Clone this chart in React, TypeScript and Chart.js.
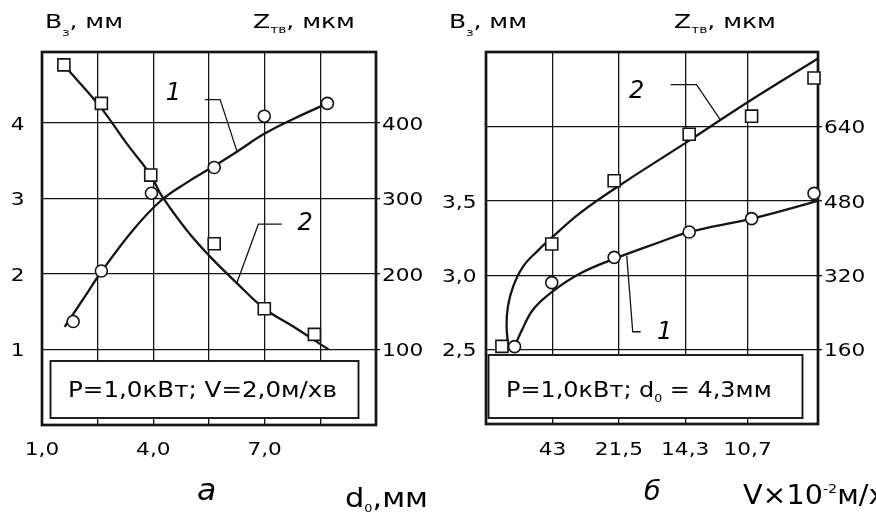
import React, { useEffect, useRef } from 'react';
import { Chart, registerables } from 'chart.js';

Chart.register(...registerables);

// ================= Figure (а): x = d0, mm =================
const A_X_GRID = [1, 2.5, 4, 5.5, 7, 8.5, 10];
const A_X_TICKS = [1, 4, 7];
const A_X_LABELS = ['1,0', '4,0', '7,0'];
const A_B_TICKS = [1, 2, 3, 4];
const A_B_LABELS = ['1', '2', '3', '4'];
const A_Z_TICKS = [100, 200, 300, 400];
const A_Z_LABELS = ['100', '200', '300', '400'];

// curve 1 (circles), B_з, mm
const A_PTS1_X = [1.84, 2.6, 3.95, 5.64, 6.99, 8.69];
const A_PTS1_B = [1.37, 2.04, 3.07, 3.41, 4.09, 4.26];
const A_LINE1_X = [1.61, 2.1, 2.6, 3.45, 4.2, 4.9, 5.64, 6.25, 7.0, 7.8, 8.69];
const A_LINE1_B = [1.3, 1.66, 2.03, 2.58, 2.97, 3.21, 3.43, 3.62, 3.86, 4.06, 4.26];

// curve 2 (squares), Z_тв, мкм
const A_PTS2_X = [1.59, 2.6, 3.93, 5.64, 6.99, 8.34];
const A_PTS2_Z = [477, 426, 331, 240, 154, 120];
const A_LINE2_X = [1.6, 2.56, 3.28, 3.93, 4.22, 4.9, 5.53, 6.25, 6.97, 7.78, 8.72];
const A_LINE2_Z = [476, 422, 373, 331, 304, 258, 223, 188, 155, 130, 100];

// leaders and curve numbers (B units)
const A_LEAD1_X = [5.39, 5.8, 6.25];
const A_LEAD1_B = [4.31, 4.31, 3.63];
const A_LEAD2_X = [7.46, 6.83, 6.25];
const A_LEAD2_B = [2.66, 2.66, 1.88];
const A_NUM_X = [4.54, 8.09];
const A_NUM_B = [4.41, 2.69];
const A_NUM_TEXT = ['1', '2'];

// ================= Figure (б): x = V×10^-2 m/min =================
const B_X_GRID = [1, 2, 3, 3.94];
const B_X_LABELS = ['43', '21,5', '14,3', '10,7'];
const B_B_GRID = [2.5, 3.0, 3.5, 4.0];
const B_B_TICKS = [2.5, 3.0, 3.5];
const B_B_LABELS = ['2,5', '3,0', '3,5'];
const B_Z_TICKS = [160, 320, 480, 640];
const B_Z_LABELS = ['160', '320', '480', '640'];

// curve 1 (circles), B_з, mm
const B_PTS1_X = [0.43, 0.99, 1.93, 3.06, 4.0, 4.94];
const B_PTS1_B = [2.52, 2.95, 3.12, 3.29, 3.38, 3.55];
const B_LINE1_X = [0.43, 0.54, 0.71, 1.0, 1.41, 1.93, 2.6, 3.06, 4.0, 5.0];
const B_LINE1_B = [2.52, 2.63, 2.77, 2.89, 3.01, 3.11, 3.22, 3.29, 3.38, 3.5];

// curve 2 (squares), Z_тв, мкм
const B_PTS2_X = [0.24, 0.99, 1.93, 3.06, 4.0, 4.94];
const B_PTS2_Z = [167, 387, 523, 623, 662, 744];
const B_LINE2_X = [0.34, 0.31, 0.33, 0.41, 0.56, 0.79, 1.0, 1.41, 2.0, 3.0, 3.94, 5.0];
const B_LINE2_Z = [160, 210, 253, 296, 339, 374, 402, 453, 512, 604, 692, 786];

// leaders and curve numbers
const B_LEAD2_X = [2.78, 3.17, 3.53];
const B_LEAD2_Z = [730, 730, 654];
const B_LEAD1_X = [2.12, 2.21, 2.33];
const B_LEAD1_B = [3.13, 2.62, 2.62];
const B_NUM2 = { x: 2.27, z: 718, t: '2' };
const B_NUM1 = { x: 2.69, b: 2.627, t: '1' };

// ================= drawing helpers =================
const INK = '#141414';
const TEXT_INK = '#000000';
const FONT = '"DejaVu Sans", "Liberation Sans", Arial, sans-serif';
const SX = 1.17;
const SX_TITLE = 1.25;

type Part = { t: string; s?: number; dy?: number };

function rich(
  ctx: CanvasRenderingContext2D,
  x: number,
  y: number,
  parts: Part[],
  size: number,
  sx: number,
  align: 'left' | 'center' | 'right' = 'left',
  italic = false
) {
  const fontFor = (s: number) => `${italic ? 'italic ' : ''}${s}px ${FONT}`;
  const ws = parts.map((p) => {
    ctx.font = fontFor(p.s ?? size);
    return ctx.measureText(p.t).width * sx;
  });
  const total = ws.reduce((a, b) => a + b, 0);
  let cx = align === 'left' ? x : align === 'center' ? x - total / 2 : x - total;
  ctx.save();
  ctx.fillStyle = TEXT_INK;
  ctx.textAlign = 'left';
  ctx.textBaseline = 'alphabetic';
  parts.forEach((p, i) => {
    ctx.save();
    ctx.font = fontFor(p.s ?? size);
    ctx.translate(cx, y + (p.dy ?? 0));
    ctx.scale(sx, 1);
    ctx.fillText(p.t, 0, 0);
    ctx.restore();
    cx += ws[i];
  });
  ctx.restore();
}

function axis(position: string, min: number, max: number, values: number[], onArea: boolean, tickLen = 0) {
  const horizontal = position === 'bottom' || position === 'top';
  return {
    type: 'linear',
    position,
    min,
    max,
    afterBuildTicks: (s: any) => {
      s.ticks = values.map((v) => ({ value: v }));
    },
    afterFit: (s: any) => {
      if (horizontal) s.height = 0;
      else s.width = 0;
    },
    ticks: { display: false },
    border: { display: false },
    grid: {
      display: true,
      drawOnChartArea: onArea,
      drawTicks: tickLen > 0,
      tickLength: tickLen,
      color: INK,
      lineWidth: 1.3,
    },
  };
}

const pts = (xs: number[], ys: number[]) => xs.map((x, i) => ({ x, y: ys[i] }));

function curve(xs: number[], ys: number[], yAxisID: string, width = 2.3, tension = 0.4) {
  return {
    data: pts(xs, ys),
    yAxisID,
    showLine: true,
    borderColor: INK,
    backgroundColor: INK,
    borderWidth: width,
    pointRadius: 0,
    pointHoverRadius: 0,
    tension,
    fill: false,
    order: 2,
    clip: false,
  };
}

function marks(xs: number[], ys: number[], yAxisID: string, style: string, radius: number) {
  return {
    data: pts(xs, ys),
    yAxisID,
    showLine: false,
    pointStyle: style,
    pointRadius: radius,
    pointHoverRadius: radius,
    pointBorderWidth: 1.6,
    pointBorderColor: INK,
    pointBackgroundColor: '#ffffff',
    borderColor: INK,
    backgroundColor: '#ffffff',
    order: 0,
    clip: false,
  };
}

function frameAndBox(chart: any, insetL: number, top: number, insetR: number, insetB: number) {
  const { ctx, chartArea: a } = chart;
  ctx.save();
  ctx.strokeStyle = INK;
  ctx.lineWidth = 2.7;
  ctx.strokeRect(a.left, a.top, a.right - a.left, a.bottom - a.top);
  const bx = a.left + insetL;
  const bw = a.right - insetR - bx;
  const bh = a.bottom - insetB - top;
  ctx.fillStyle = '#ffffff';
  ctx.fillRect(bx, top, bw, bh);
  ctx.lineWidth = 1.9;
  ctx.strokeRect(bx, top, bw, bh);
  ctx.restore();
}

const TICK = 18.5;
const CAP = 0.729 * TICK;
const TITLE = 20;
const BOXT = 21;

function baseOptions(padding: any, scales: any) {
  return {
    type: 'scatter',
    options: {
      animation: false,
      responsive: false,
      events: [],
      layout: { padding },
      plugins: { legend: { display: false }, tooltip: { enabled: false } },
      scales,
    },
  };
}

function configA(): any {
  const base: any = baseOptions(
    { left: 42, right: 62, top: 52, bottom: 89 },
    {
      x: axis('bottom', 1, 10, A_X_GRID, true),
      y: axis('left', 0, 4.94, A_B_TICKS, true),
      y2: axis('right', 0, 494, A_Z_TICKS, false, 4),
    }
  );
  base.data = {
    datasets: [
      marks(A_PTS1_X, A_PTS1_B, 'y', 'circle', 6),
      marks(A_PTS2_X, A_PTS2_Z, 'y2', 'rect', 8.5),
      curve(A_LINE1_X, A_LINE1_B, 'y'),
      curve(A_LINE2_X, A_LINE2_Z, 'y2'),
      curve(A_LEAD1_X, A_LEAD1_B, 'y', 1.3, 0),
      curve(A_LEAD2_X, A_LEAD2_B, 'y', 1.3, 0),
    ],
  };
  base.plugins = [
    {
      id: 'figA',
      beforeDatasetsDraw(chart: any) {
        frameAndBox(chart, 8.5, 361, 17.5, 7);
      },
      afterDraw(chart: any) {
        const { ctx, chartArea: a, scales } = chart;
        const sx = scales.x, yl = scales.y, yr = scales.y2;
        A_B_TICKS.forEach((v, i) =>
          rich(ctx, a.left - 17.5, yl.getPixelForValue(v) + CAP / 2, [{ t: A_B_LABELS[i] }], TICK, SX, 'right')
        );
        A_Z_TICKS.forEach((v, i) =>
          rich(ctx, a.right + 6, yr.getPixelForValue(v) + CAP / 2, [{ t: A_Z_LABELS[i] }], TICK, SX, 'left')
        );
        A_X_TICKS.forEach((v, i) =>
          rich(ctx, sx.getPixelForValue(v), a.bottom + 30, [{ t: A_X_LABELS[i] }], TICK, SX, 'center')
        );
        A_NUM_X.forEach((v, i) =>
          rich(ctx, sx.getPixelForValue(v), yl.getPixelForValue(A_NUM_B[i]) + 8, [{ t: A_NUM_TEXT[i] }], 24, 1.0, 'center', true)
        );
        rich(ctx, 45, 28, [{ t: 'B' }, { t: 'з', s: 11, dy: 8 }, { t: ', мм' }], TITLE, SX_TITLE);
        rich(ctx, 253, 28, [{ t: 'Z' }, { t: 'тв', s: 11, dy: 5 }, { t: ', мкм' }], TITLE, SX_TITLE);
        rich(ctx, 68, 397, [{ t: 'P=1,0кВт; V=2,0м/хв' }], BOXT, SX);
        rich(ctx, 197, 500, [{ t: 'а' }], 30, 1.05, 'left', true);
        rich(ctx, 345, 507, [{ t: 'd' }, { t: '0', s: 11, dy: 5 }, { t: ',мм' }], 26, SX);
      },
    },
  ];
  return base;
}

function configB(): any {
  const base: any = baseOptions(
    { left: 48, right: 58, top: 52, bottom: 90 },
    {
      x: axis('bottom', 0, 5, B_X_GRID, true),
      y: axis('left', 2.0, 4.5, B_B_GRID, true),
      y2: axis('right', 0, 800, B_Z_TICKS, false, 4),
    }
  );
  base.data = {
    datasets: [
      marks(B_PTS1_X, B_PTS1_B, 'y', 'circle', 6),
      marks(B_PTS2_X, B_PTS2_Z, 'y2', 'rect', 8.5),
      curve(B_LINE1_X, B_LINE1_B, 'y'),
      curve(B_LINE2_X, B_LINE2_Z, 'y2'),
      curve(B_LEAD2_X, B_LEAD2_Z, 'y2', 1.3, 0),
      curve(B_LEAD1_X, B_LEAD1_B, 'y', 1.3, 0),
    ],
  };
  base.plugins = [
    {
      id: 'figB',
      beforeDatasetsDraw(chart: any) {
        frameAndBox(chart, 2.5, 355, 15.5, 6);
      },
      afterDraw(chart: any) {
        const { ctx, chartArea: a, scales } = chart;
        const sx = scales.x, yl = scales.y, yr = scales.y2;
        B_B_TICKS.forEach((v, i) =>
          rich(ctx, a.left - 9.5, yl.getPixelForValue(v) + CAP / 2, [{ t: B_B_LABELS[i] }], TICK, SX, 'right')
        );
        B_Z_TICKS.forEach((v, i) =>
          rich(ctx, a.right + 6, yr.getPixelForValue(v) + CAP / 2, [{ t: B_Z_LABELS[i] }], TICK, SX, 'left')
        );
        B_X_GRID.forEach((v, i) =>
          rich(ctx, sx.getPixelForValue(v), a.bottom + 31, [{ t: B_X_LABELS[i] }], TICK, SX, 'center')
        );
        rich(ctx, sx.getPixelForValue(B_NUM2.x), yr.getPixelForValue(B_NUM2.z) + 8, [{ t: B_NUM2.t }], 24, 1.0, 'center', true);
        rich(ctx, sx.getPixelForValue(B_NUM1.x), yl.getPixelForValue(B_NUM1.b) + 8, [{ t: B_NUM1.t }], 24, 1.0, 'center', true);
        rich(ctx, 11, 28, [{ t: 'B' }, { t: 'з', s: 11, dy: 8 }, { t: ', мм' }], TITLE, SX_TITLE);
        rich(ctx, 236, 28, [{ t: 'Z' }, { t: 'тв', s: 11, dy: 5 }, { t: ', мкм' }], TITLE, SX_TITLE);
        rich(ctx, 68, 397, [{ t: 'P=1,0кВт; d' }, { t: '0', s: 11, dy: 5 }, { t: ' = 4,3мм' }], BOXT, 1.14);
        rich(ctx, 206, 500, [{ t: 'б' }], 27, 1.0, 'left', true);
        rich(ctx, 305, 504, [{ t: 'V×10' }, { t: '-2', s: 13, dy: -11 }, { t: 'м/хв' }], 26, 1.1);
      },
    },
  ];
  return base;
}

export default function App() {
  const refA = useRef<HTMLCanvasElement>(null);
  const refB = useRef<HTMLCanvasElement>(null);

  useEffect(() => {
    const a = new Chart(refA.current as HTMLCanvasElement, configA());
    const b = new Chart(refB.current as HTMLCanvasElement, configB());
    return () => {
      a.destroy();
      b.destroy();
    };
  }, []);

  return (
    <div
      style={{
        position: 'fixed',
        left: 0,
        top: 0,
        width: 876,
        height: 514,
        background: '#ffffff',
        overflow: 'hidden',
      }}
    >
      <canvas ref={refA} width={438} height={514} style={{ position: 'absolute', left: 0, top: 0 }} />
      <canvas ref={refB} width={438} height={514} style={{ position: 'absolute', left: 438, top: 0 }} />
    </div>
  );
}
